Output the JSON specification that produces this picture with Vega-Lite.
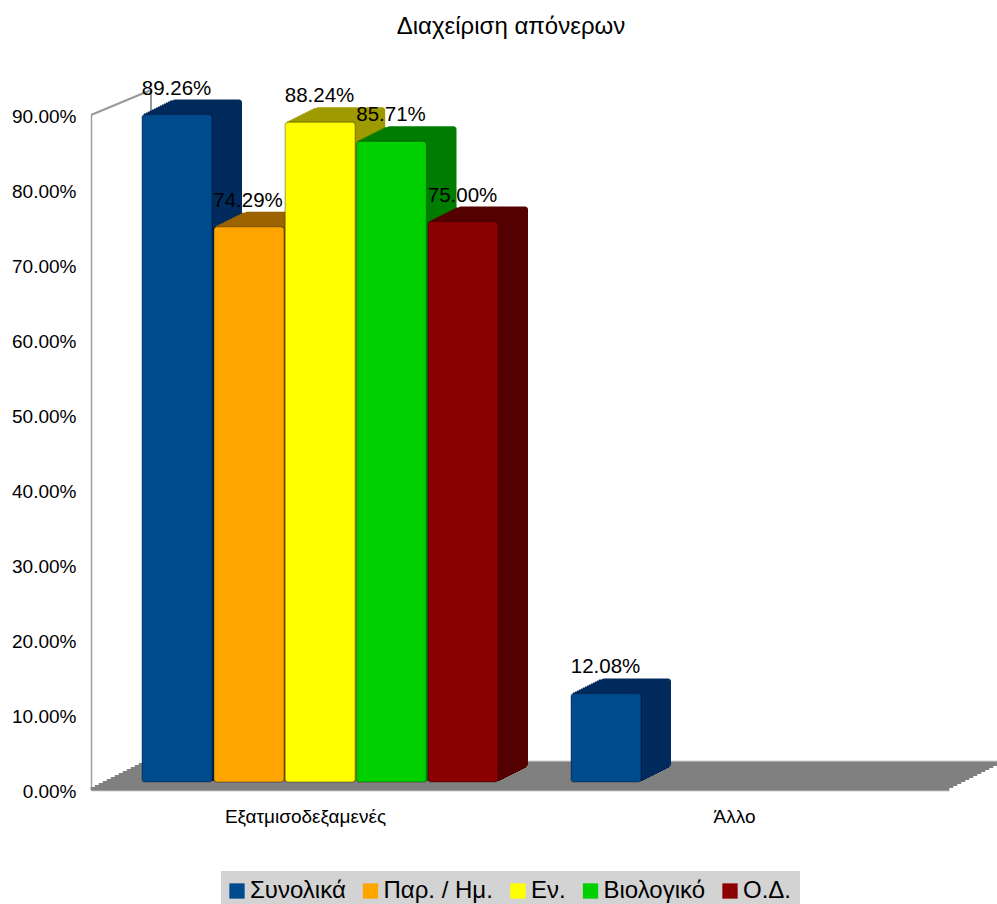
{
"$schema":"https://vega.github.io/schema/vega-lite/v6.json",
"width":858,"height":675,
"autosize":{"type":"none"},
"padding":{"left":91,"top":115,"right":48,"bottom":114},
"background":"white",
"title":{"text":"Διαχείριση απόνερων","font":"Liberation Sans","fontSize":24,"fontWeight":"normal","color":"#000000","dx":-9,"offset":40},
"config":{"view":{"stroke":null},"axis":{"grid":false},"bar":{"width":70}},
"datasets":{
"main":[
{"category":"Εξατμισοδεξαμενές","series":"Συνολικά","value":0.8926},
{"category":"Εξατμισοδεξαμενές","series":"Παρ. / Ημ.","value":0.7429},
{"category":"Εξατμισοδεξαμενές","series":"Εν.","value":0.8824},
{"category":"Εξατμισοδεξαμενές","series":"Βιολογικό","value":0.8571},
{"category":"Εξατμισοδεξαμενές","series":"Ο.Δ.","value":0.75},
{"category":"Άλλο","series":"Συνολικά","value":0.1208}
],
"cats":[{"category":"Εξατμισοδεξαμενές"},{"category":"Άλλο"}],
"wall":[{"category":"Εξατμισοδεξαμενές"}]
},
"layer":[
{"data":{"name":"cats"},
 "encoding":{
  "x":{"field":"category","type":"nominal","scale":{"domain":["Εξατμισοδεξαμενές","Άλλο"],"paddingInner":0,"paddingOuter":0},
   "axis":{"title":null,"labelAngle":0,"labelFont":"Liberation Sans","labelFontSize":19,"labelColor":"#000000","ticks":false,"labelPadding":17,"domainColor":"#a0a0a0","domainWidth":1.5}},
  "y":{"datum":0,"type":"quantitative","scale":{"domain":[0,0.9],"nice":false,"zero":true},
   "axis":{"title":null,"values":[0,0.1,0.2,0.3,0.4,0.5,0.6,0.7,0.8,0.9],"format":".2%","labelFont":"Liberation Sans","labelFontSize":19,"labelColor":"#000000","ticks":false,"labelPadding":15,"labelOffset":1.3,"domainColor":"#a0a0a0","domainWidth":1.5,"labelOverlap":false}},
  "y2":{"datum":0.004}
 },
 "layer":[
  {"mark":{"type":"bar","width":429.5,"color":"#808080","xOffset":0,"yOffset":0,"y2Offset":0}},
  {"mark":{"type":"bar","width":429.5,"color":"#808080","xOffset":4,"yOffset":-2,"y2Offset":-2}},
  {"mark":{"type":"bar","width":429.5,"color":"#808080","xOffset":8,"yOffset":-4,"y2Offset":-4}},
  {"mark":{"type":"bar","width":429.5,"color":"#808080","xOffset":12,"yOffset":-6,"y2Offset":-6}},
  {"mark":{"type":"bar","width":429.5,"color":"#808080","xOffset":16,"yOffset":-8,"y2Offset":-8}},
  {"mark":{"type":"bar","width":429.5,"color":"#808080","xOffset":20,"yOffset":-10,"y2Offset":-10}},
  {"mark":{"type":"bar","width":429.5,"color":"#808080","xOffset":24,"yOffset":-12,"y2Offset":-12}},
  {"mark":{"type":"bar","width":429.5,"color":"#808080","xOffset":28,"yOffset":-14,"y2Offset":-14}},
  {"mark":{"type":"bar","width":429.5,"color":"#808080","xOffset":32,"yOffset":-16,"y2Offset":-16}},
  {"mark":{"type":"bar","width":429.5,"color":"#808080","xOffset":36,"yOffset":-18,"y2Offset":-18}},
  {"mark":{"type":"bar","width":429.5,"color":"#808080","xOffset":40,"yOffset":-20,"y2Offset":-20}},
  {"mark":{"type":"bar","width":429.5,"color":"#808080","xOffset":44,"yOffset":-22,"y2Offset":-22}},
  {"mark":{"type":"bar","width":429.5,"color":"#808080","xOffset":48,"yOffset":-24,"y2Offset":-24}},
  {"mark":{"type":"bar","width":429.5,"color":"#808080","xOffset":52,"yOffset":-26,"y2Offset":-26}},
  {"mark":{"type":"bar","width":429.5,"color":"#a8a8a8","xOffset":56,"yOffset":-28,"y2Offset":-28},"encoding":{"y2":{"datum":0.0016}}}
 ]
},
{"data":{"name":"wall"},
 "mark":{"type":"rule","color":"#999999","strokeWidth":2,"xOffset":-214.5,"x2Offset":-154.5,"yOffset":0,"y2Offset":-25},
 "encoding":{
  "x":{"field":"category","type":"nominal"},
  "x2":{"field":"category"},
  "y":{"datum":0.9,"type":"quantitative"},
  "y2":{"datum":0.9}
 }
},
{"data":{"name":"wall"},
 "mark":{"type":"rule","color":"#999999","strokeWidth":2,"xOffset":-154.5,"yOffset":-25},
 "encoding":{
  "x":{"field":"category","type":"nominal"},
  "y":{"datum":0.9,"type":"quantitative"},
  "y2":{"datum":0.85}
 }
},
{"data":{"name":"main"},
 "encoding":{
  "x":{"field":"category","type":"nominal"},
  "y":{"field":"value","type":"quantitative","stack":null},
  "y2":{"datum":0},
  "color":{"field":"series","type":"nominal","scale":{"domain":["Ο.Δ.","Βιολογικό","Εν.","Παρ. / Ημ.","Συνολικά"],"range":["#550000","#007c00","#9f9a00","#9c6500","#002b5c"]},"legend":null}
 },
 "layer":[
  {"transform":[{"filter":"datum.series === 'Συνολικά'"}],"layer":[
   {"mark":{"type":"bar","xOffset":-98.5,"yOffset":-21,"y2Offset":-23,"cornerRadius":3}},
   {"mark":{"type":"bar","xOffset":-100.5,"yOffset":-20,"y2Offset":-22}},
   {"mark":{"type":"bar","xOffset":-102.5,"yOffset":-19,"y2Offset":-21}},
   {"mark":{"type":"bar","xOffset":-104.5,"yOffset":-18,"y2Offset":-20}},
   {"mark":{"type":"bar","xOffset":-106.5,"yOffset":-17,"y2Offset":-19}},
   {"mark":{"type":"bar","xOffset":-108.5,"yOffset":-16,"y2Offset":-18}},
   {"mark":{"type":"bar","xOffset":-110.5,"yOffset":-15,"y2Offset":-17}},
   {"mark":{"type":"bar","xOffset":-112.5,"yOffset":-14,"y2Offset":-16}},
   {"mark":{"type":"bar","xOffset":-114.5,"yOffset":-13,"y2Offset":-15}},
   {"mark":{"type":"bar","xOffset":-116.5,"yOffset":-12,"y2Offset":-14}},
   {"mark":{"type":"bar","xOffset":-118.5,"yOffset":-11,"y2Offset":-13}},
   {"mark":{"type":"bar","xOffset":-120.5,"yOffset":-10,"y2Offset":-12}},
   {"mark":{"type":"bar","xOffset":-122.5,"yOffset":-9,"y2Offset":-11}},
   {"mark":{"type":"bar","xOffset":-124.5,"yOffset":-8,"y2Offset":-10}},
   {"mark":{"type":"bar","xOffset":-126.5,"yOffset":-7,"y2Offset":-9}},
   {"mark":{"type":"bar","xOffset":-128.5,"yOffset":-6,"y2Offset":-8,"cornerRadius":3,"stroke":"#000000","strokeWidth":1.5,"strokeOpacity":0.25},
    "encoding":{"fill":{"field":"series","type":"nominal","title":null,"scale":{"domain":["Συνολικά","Παρ. / Ημ.","Εν.","Βιολογικό","Ο.Δ."],"range":["#004a8e","#ffa500","#ffff00","#00d000","#8b0000"]},
      "legend":{"orient":"none","legendX":130,"legendY":756,"direction":"horizontal","columns":5,"fillColor":"#d3d3d3","padding":8,"symbolType":"square","symbolSize":234,"symbolOffset":-4,"symbolStrokeWidth":0,"labelFont":"Liberation Sans","labelFontSize":24,"labelColor":"#000000","columnPadding":16.5,"labelOffset":1,"labelLimit":200}}}}
  ]},
  {"transform":[{"filter":"datum.series === 'Παρ. / Ημ.'"}],"layer":[
   {"mark":{"type":"bar","xOffset":-26.5,"yOffset":-21,"y2Offset":-23,"cornerRadius":3}},
   {"mark":{"type":"bar","xOffset":-28.5,"yOffset":-20,"y2Offset":-22}},
   {"mark":{"type":"bar","xOffset":-30.5,"yOffset":-19,"y2Offset":-21}},
   {"mark":{"type":"bar","xOffset":-32.5,"yOffset":-18,"y2Offset":-20}},
   {"mark":{"type":"bar","xOffset":-34.5,"yOffset":-17,"y2Offset":-19}},
   {"mark":{"type":"bar","xOffset":-36.5,"yOffset":-16,"y2Offset":-18}},
   {"mark":{"type":"bar","xOffset":-38.5,"yOffset":-15,"y2Offset":-17}},
   {"mark":{"type":"bar","xOffset":-40.5,"yOffset":-14,"y2Offset":-16}},
   {"mark":{"type":"bar","xOffset":-42.5,"yOffset":-13,"y2Offset":-15}},
   {"mark":{"type":"bar","xOffset":-44.5,"yOffset":-12,"y2Offset":-14}},
   {"mark":{"type":"bar","xOffset":-46.5,"yOffset":-11,"y2Offset":-13}},
   {"mark":{"type":"bar","xOffset":-48.5,"yOffset":-10,"y2Offset":-12}},
   {"mark":{"type":"bar","xOffset":-50.5,"yOffset":-9,"y2Offset":-11}},
   {"mark":{"type":"bar","xOffset":-52.5,"yOffset":-8,"y2Offset":-10}},
   {"mark":{"type":"bar","xOffset":-54.5,"yOffset":-7,"y2Offset":-9}},
   {"mark":{"type":"bar","xOffset":-56.5,"yOffset":-6,"y2Offset":-8,"cornerRadius":3,"stroke":"#000000","strokeWidth":1.5,"strokeOpacity":0.25},
    "encoding":{"fill":{"field":"series","type":"nominal"}}}
  ]},
  {"transform":[{"filter":"datum.series === 'Εν.'"}],"layer":[
   {"mark":{"type":"bar","xOffset":44.7,"yOffset":-21,"y2Offset":-23,"cornerRadius":3}},
   {"mark":{"type":"bar","xOffset":42.7,"yOffset":-20,"y2Offset":-22}},
   {"mark":{"type":"bar","xOffset":40.7,"yOffset":-19,"y2Offset":-21}},
   {"mark":{"type":"bar","xOffset":38.7,"yOffset":-18,"y2Offset":-20}},
   {"mark":{"type":"bar","xOffset":36.7,"yOffset":-17,"y2Offset":-19}},
   {"mark":{"type":"bar","xOffset":34.7,"yOffset":-16,"y2Offset":-18}},
   {"mark":{"type":"bar","xOffset":32.7,"yOffset":-15,"y2Offset":-17}},
   {"mark":{"type":"bar","xOffset":30.7,"yOffset":-14,"y2Offset":-16}},
   {"mark":{"type":"bar","xOffset":28.7,"yOffset":-13,"y2Offset":-15}},
   {"mark":{"type":"bar","xOffset":26.7,"yOffset":-12,"y2Offset":-14}},
   {"mark":{"type":"bar","xOffset":24.7,"yOffset":-11,"y2Offset":-13}},
   {"mark":{"type":"bar","xOffset":22.7,"yOffset":-10,"y2Offset":-12}},
   {"mark":{"type":"bar","xOffset":20.7,"yOffset":-9,"y2Offset":-11}},
   {"mark":{"type":"bar","xOffset":18.7,"yOffset":-8,"y2Offset":-10}},
   {"mark":{"type":"bar","xOffset":16.7,"yOffset":-7,"y2Offset":-9}},
   {"mark":{"type":"bar","xOffset":14.7,"yOffset":-6,"y2Offset":-8,"cornerRadius":3,"stroke":"#000000","strokeWidth":1.5,"strokeOpacity":0.25},
    "encoding":{"fill":{"field":"series","type":"nominal"}}}
  ]},
  {"transform":[{"filter":"datum.series === 'Βιολογικό'"}],"layer":[
   {"mark":{"type":"bar","xOffset":116,"yOffset":-21,"y2Offset":-23,"cornerRadius":3}},
   {"mark":{"type":"bar","xOffset":114,"yOffset":-20,"y2Offset":-22}},
   {"mark":{"type":"bar","xOffset":112,"yOffset":-19,"y2Offset":-21}},
   {"mark":{"type":"bar","xOffset":110,"yOffset":-18,"y2Offset":-20}},
   {"mark":{"type":"bar","xOffset":108,"yOffset":-17,"y2Offset":-19}},
   {"mark":{"type":"bar","xOffset":106,"yOffset":-16,"y2Offset":-18}},
   {"mark":{"type":"bar","xOffset":104,"yOffset":-15,"y2Offset":-17}},
   {"mark":{"type":"bar","xOffset":102,"yOffset":-14,"y2Offset":-16}},
   {"mark":{"type":"bar","xOffset":100,"yOffset":-13,"y2Offset":-15}},
   {"mark":{"type":"bar","xOffset":98,"yOffset":-12,"y2Offset":-14}},
   {"mark":{"type":"bar","xOffset":96,"yOffset":-11,"y2Offset":-13}},
   {"mark":{"type":"bar","xOffset":94,"yOffset":-10,"y2Offset":-12}},
   {"mark":{"type":"bar","xOffset":92,"yOffset":-9,"y2Offset":-11}},
   {"mark":{"type":"bar","xOffset":90,"yOffset":-8,"y2Offset":-10}},
   {"mark":{"type":"bar","xOffset":88,"yOffset":-7,"y2Offset":-9}},
   {"mark":{"type":"bar","xOffset":86,"yOffset":-6,"y2Offset":-8,"cornerRadius":3,"stroke":"#000000","strokeWidth":1.5,"strokeOpacity":0.25},
    "encoding":{"fill":{"field":"series","type":"nominal"}}}
  ]},
  {"transform":[{"filter":"datum.series === 'Ο.Δ.'"}],"layer":[
   {"mark":{"type":"bar","xOffset":187.5,"yOffset":-21,"y2Offset":-23,"cornerRadius":3}},
   {"mark":{"type":"bar","xOffset":185.5,"yOffset":-20,"y2Offset":-22}},
   {"mark":{"type":"bar","xOffset":183.5,"yOffset":-19,"y2Offset":-21}},
   {"mark":{"type":"bar","xOffset":181.5,"yOffset":-18,"y2Offset":-20}},
   {"mark":{"type":"bar","xOffset":179.5,"yOffset":-17,"y2Offset":-19}},
   {"mark":{"type":"bar","xOffset":177.5,"yOffset":-16,"y2Offset":-18}},
   {"mark":{"type":"bar","xOffset":175.5,"yOffset":-15,"y2Offset":-17}},
   {"mark":{"type":"bar","xOffset":173.5,"yOffset":-14,"y2Offset":-16}},
   {"mark":{"type":"bar","xOffset":171.5,"yOffset":-13,"y2Offset":-15}},
   {"mark":{"type":"bar","xOffset":169.5,"yOffset":-12,"y2Offset":-14}},
   {"mark":{"type":"bar","xOffset":167.5,"yOffset":-11,"y2Offset":-13}},
   {"mark":{"type":"bar","xOffset":165.5,"yOffset":-10,"y2Offset":-12}},
   {"mark":{"type":"bar","xOffset":163.5,"yOffset":-9,"y2Offset":-11}},
   {"mark":{"type":"bar","xOffset":161.5,"yOffset":-8,"y2Offset":-10}},
   {"mark":{"type":"bar","xOffset":159.5,"yOffset":-7,"y2Offset":-9}},
   {"mark":{"type":"bar","xOffset":157.5,"yOffset":-6,"y2Offset":-8,"cornerRadius":3,"stroke":"#000000","strokeWidth":1.5,"strokeOpacity":0.25},
    "encoding":{"fill":{"field":"series","type":"nominal"}}}
  ]}
 ]
},
{"data":{"name":"main"},
 "mark":{"type":"text","font":"Liberation Sans","fontSize":20.5,"color":"#000000","baseline":"middle","align":"center","dx":14,"dy":-32},
 "encoding":{
  "x":{"field":"category","type":"nominal"},
  "xOffset":{"field":"series","type":"nominal","scale":{"type":"band","domain":["Συνολικά","Παρ. / Ημ.","Εν.","Βιολογικό","Ο.Δ."],"paddingInner":0.02,"paddingOuter":0.51}},
  "y":{"field":"value","type":"quantitative","stack":null},
  "text":{"field":"value","type":"quantitative","format":".2%"}
 }
}
]
}
